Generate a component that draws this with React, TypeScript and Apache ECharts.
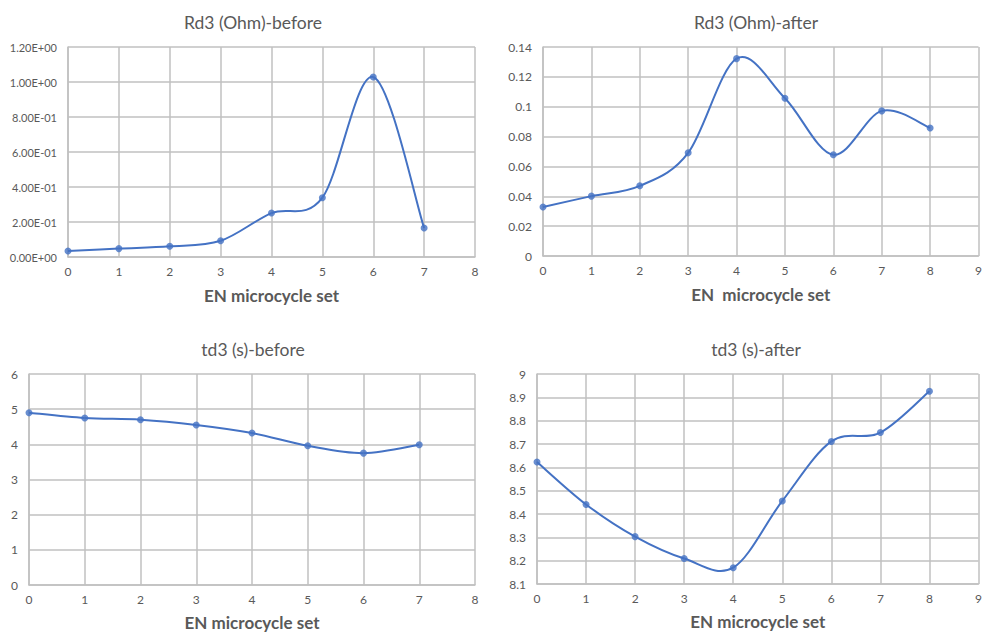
import React, { useEffect, useRef } from "react";
import * as echarts from "echarts";

const xBefore = [0, 1, 2, 3, 4, 5, 6, 7];
const xAfter = [0, 1, 2, 3, 4, 5, 6, 7, 8];
const rd3Before = [0.034, 0.048, 0.061, 0.093, 0.251, 0.339, 1.029, 0.166];
const rd3After = [0.0328, 0.0401, 0.047, 0.0691, 0.1322, 0.1057, 0.0678, 0.0972, 0.0858];
const td3Before = [4.9, 4.75, 4.7, 4.55, 4.32, 3.96, 3.75, 3.99];
const td3After = [8.623, 8.441, 8.303, 8.209, 8.17, 8.456, 8.711, 8.749, 8.926];
const titles = ["Rd3 (Ohm)-before", "Rd3 (Ohm)-after", "td3 (s)-before", "td3 (s)-after"];
const xNames = ["EN microcycle set", "EN  microcycle set", "EN microcycle set", "EN microcycle set"];

const FONT = "Lato, 'Open Sans', sans-serif";
const GRID_COLOR = "#c0c0c0";
const TEXT = "#595959";
const BLUE = "#4472C4";

function sci(v: number): string {
  if (v === 0) return "0.00E+00";
  const s = v.toExponential(2);
  const [m, e] = s.split("e");
  const sign = e[0] === "-" ? "-" : "+";
  const digits = e.replace(/[+-]/, "").padStart(2, "0");
  return `${m}E${sign}${digits}`;
}

export default function App() {
  const ref = useRef<HTMLDivElement>(null);
  useEffect(() => {
    if (!ref.current) return;
    const chart = echarts.init(ref.current, null, { renderer: "svg" });
    const grids = [
      { left: 68, right: 510, top: 47, height: 210 },
      { left: 543, right: 2, top: 47, height: 209 },
      { left: 29, right: 510, top: 374, height: 211 },
      { left: 537, right: 2, top: 374, height: 210 },
    ];
    const titleCenters = [
      [248, 8],
      [751, 8],
      [248, 335],
      [751, 335],
    ];
    const nameGaps = [30, 30, 29, 29];
    const xs = [xBefore, xAfter, xBefore, xAfter];
    const ys = [rd3Before, rd3After, td3Before, td3After];
    const yCfg = [
      { min: 0, max: 1.2, interval: 0.2, formatter: (v: number) => sci(v), size: 11 },
      { min: 0, max: 0.14, interval: 0.02, size: 12 },
      { min: 0, max: 6, interval: 1, size: 12 },
      { min: 8.1, max: 9, interval: 0.1, size: 12 },
    ];
    const lineStyle = { color: GRID_COLOR, width: 1.5 };

    const makeRender = (xv: number[], yv: number[]) => (params: any, api: any) => {
      const n = xv.length;
      const i = params.dataIndex;
      if (i >= n - 1) return null;
      const pt = (k: number) => {
        const kk = Math.max(0, Math.min(n - 1, k));
        return api.coord([xv[kk], yv[kk]]);
      };
      const p0 = pt(i - 1);
      const p1 = pt(i);
      const p2 = pt(i + 1);
      const p3 = pt(i + 2);
      return {
        type: "bezierCurve",
        shape: {
          x1: p1[0],
          y1: p1[1],
          cpx1: p1[0] + (p2[0] - p0[0]) / 6,
          cpy1: p1[1] + (p2[1] - p0[1]) / 6,
          cpx2: p2[0] - (p3[0] - p1[0]) / 6,
          cpy2: p2[1] - (p3[1] - p1[1]) / 6,
          x2: p2[0],
          y2: p2[1],
        },
        style: { stroke: BLUE, lineWidth: 2, fill: null },
      };
    };

    const series: any[] = [];
    ys.forEach((vals, i) => {
      const data = vals.map((v, j) => [xs[i][j], v]);
      series.push({
        type: "custom",
        xAxisIndex: i,
        yAxisIndex: i,
        data,
        encode: { x: 0, y: 1 },
        renderItem: makeRender(xs[i], vals),
        silent: true,
        z: 2,
      });
      series.push({
        type: "scatter",
        xAxisIndex: i,
        yAxisIndex: i,
        data,
        symbol: "circle",
        symbolSize: 7,
        itemStyle: { color: BLUE },
        z: 3,
      });
    });

    chart.setOption({
      animation: false,
      backgroundColor: "#ffffff",
      title: titles.map((t, i) => ({
        text: t,
        left: titleCenters[i][0],
        top: titleCenters[i][1],
        textAlign: "center",
        textStyle: { fontFamily: FONT, fontSize: 17.5, fontWeight: "normal", color: TEXT },
      })),
      grid: grids,
      xAxis: grids.map((_, i) => ({
        type: "value",
        gridIndex: i,
        min: 0,
        max: i % 2 === 0 ? 8 : 9,
        interval: 1,
        name: xNames[i],
        nameLocation: "middle",
        nameGap: nameGaps[i],
        nameTextStyle: { fontFamily: FONT, fontSize: 17, fontWeight: "bold", color: TEXT },
        axisLine: { lineStyle },
        axisTick: { show: false },
        splitLine: { show: true, lineStyle },
        axisLabel: { fontFamily: FONT, fontSize: 12, color: TEXT, margin: 8 },
      })),
      yAxis: grids.map((_, i) => ({
        type: "value",
        gridIndex: i,
        min: yCfg[i].min,
        max: yCfg[i].max,
        interval: yCfg[i].interval,
        axisLine: { show: true, lineStyle },
        axisTick: { show: false },
        splitLine: { show: true, lineStyle },
        axisLabel: {
          fontFamily: FONT,
          fontSize: yCfg[i].size,
          color: TEXT,
          margin: 11,
          formatter: yCfg[i].formatter,
        },
      })),
      series,
    });
    return () => chart.dispose();
  }, []);
  return (
    <div
      ref={ref}
      style={{ position: "fixed", left: 0, top: 0, width: 985, height: 632, background: "#fff" }}
    />
  );
}
